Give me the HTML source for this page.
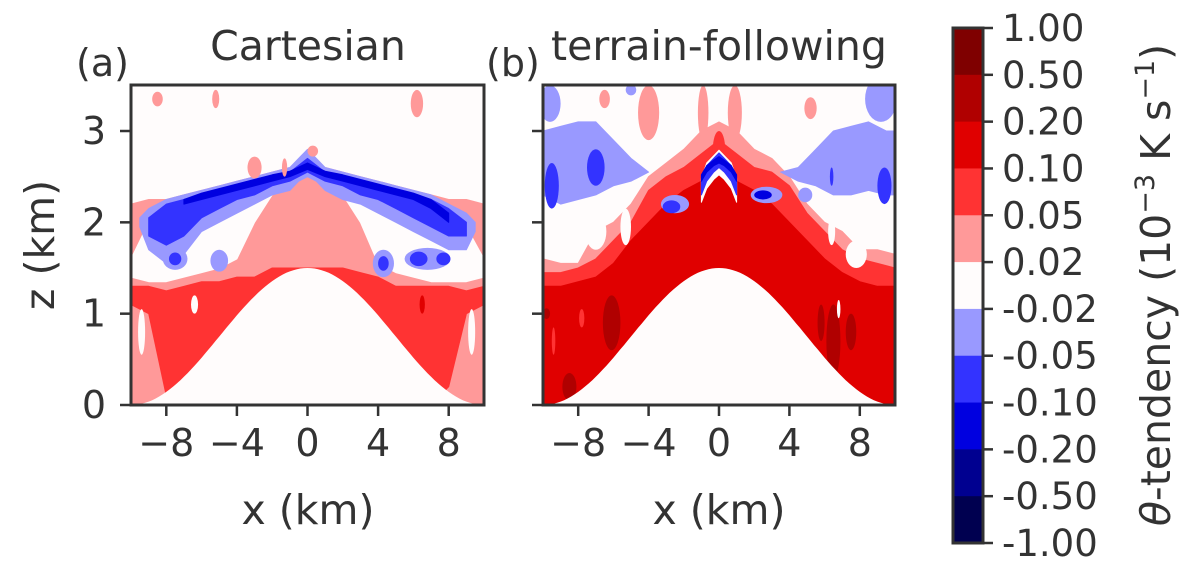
<!DOCTYPE html>
<html><head><meta charset="utf-8"><style>
body{margin:0;background:#fff;}
svg text{font-family:"DejaVu Sans","Liberation Sans",sans-serif;fill:#333;}
</style></head><body>
<svg id="fig" width="1198" height="570" viewBox="0 0 1198 570" xmlns="http://www.w3.org/2000/svg">
<defs>
<clipPath id="clipA"><rect x="131" y="85" width="353" height="320"/></clipPath>
<clipPath id="clipB"><rect x="543" y="85" width="352" height="320"/></clipPath>
</defs>
<g id="panelA" clip-path="url(#clipA)"><rect x="131" y="85" width="353" height="320" fill="#fffcfc"/></g>
<g id="panelB" clip-path="url(#clipB)"><rect x="543" y="85" width="352" height="320" fill="#fffcfc"/></g>
<g id="axes"></g>
<g id="cbar"></g>
<text x="76" y="76" font-size="38">(a)</text>
<text x="308" y="60" font-size="41" text-anchor="middle">Cartesian</text>
<text x="486" y="76" font-size="38">(b)</text>
<text x="719" y="60" font-size="41" text-anchor="middle">terrain-following</text>
<text x="308" y="524" font-size="41" text-anchor="middle">x (km)</text>
<text x="719" y="524" font-size="41" text-anchor="middle">x (km)</text>
<text transform="translate(54,245) rotate(-90)" font-size="41" text-anchor="middle">z (km)</text>
<text transform="translate(1170,285) rotate(-90)" font-size="41" text-anchor="middle"><tspan font-style="italic">θ</tspan>-tendency (10<tspan font-size="27" dy="-16">−3</tspan><tspan dy="16"> K s</tspan><tspan font-size="27" dy="-16">−1</tspan><tspan dy="16">)</tspan></text>
</svg>
<script>
const NS="http://www.w3.org/2000/svg";
const C={dr:"#7f0000",r2:"#b00000",r1:"#e00000",r05:"#ff3333",p:"#ff9999",w:"#fffcfc",lb:"#9999ff",b05:"#3333ff",b1:"#0000e0",b2:"#000090",b3:"#000050"};
const cbarLevels=["1.00","0.50","0.20","0.10","0.05","0.02","-0.02","-0.05","-0.10","-0.20","-0.50","-1.00"];
const cbarColors=[C.dr,C.r2,C.r1,C.r05,C.p,C.w,C.lb,C.b05,C.b1,C.b2,C.b3];
const xTicks=[-8,-4,0,4,8];
const zTicks=[0,1,2,3];
const hillHeight=1.5, hillHalfWidth=10;
const X21=[-10,-9,-8,-7,-6,-5,-4,-3,-2,-1,0,1,2,3,4,5,6,7,8,9,10];
const aPinkHi=[2.2,2.25,2.25,2.3,2.35,2.4,2.45,2.5,2.55,2.6,2.7,2.6,2.55,2.5,2.45,2.4,2.35,2.3,2.25,2.25,2.2];
const aWhiteLo=[1.4,1.35,1.35,1.4,1.45,1.5,1.6,2.0,2.3,2.45,2.55,2.45,2.3,2.0,1.55,1.45,1.4,1.35,1.35,1.35,1.4];
const aWhiteHi=[1.6,2.0,2.15,2.25,2.3,2.35,2.4,2.45,2.5,2.6,2.65,2.6,2.5,2.45,2.4,2.35,2.3,2.2,2.1,1.95,1.6];
const aLbX=[-9.5,-9,-8,-7,-6,-5,-4,-3,-2,-1,-0.5,0,0.5,1,2,3,4,5,6,7,8,9,9.5];
const aLbLo=[1.95,1.7,1.55,1.65,1.9,2.0,2.1,2.2,2.3,2.35,2.45,2.5,2.45,2.35,2.25,2.2,2.1,2.0,1.9,1.8,1.7,1.7,1.9];
const aLbHi=[2.05,2.15,2.25,2.3,2.35,2.4,2.45,2.5,2.55,2.6,2.7,2.8,2.7,2.6,2.55,2.5,2.45,2.4,2.35,2.3,2.2,2.1,2.0];
const aMbX=[-9,-8,-7,-6,-5,-4,-3,-2,-1,0,1,2,3,4,5,6,7,8,9];
const aMbLo=[1.85,1.75,1.85,2.05,2.15,2.25,2.3,2.4,2.45,2.55,2.45,2.4,2.3,2.25,2.15,2.05,1.95,1.85,1.85];
const aMbHi=[2.05,2.2,2.25,2.3,2.35,2.4,2.45,2.5,2.55,2.7,2.55,2.5,2.45,2.4,2.35,2.3,2.25,2.15,2.0];
const aDbX=[-7,-6,-4,-2,-1,0,1,2,4,6,7,8];
const aDbLo=[2.2,2.25,2.35,2.45,2.5,2.58,2.5,2.45,2.35,2.25,2.15,2.0];
const aDbHi=[2.25,2.32,2.42,2.52,2.56,2.65,2.56,2.52,2.42,2.32,2.25,2.1];
const aRedLo=[1.1,1.0,0.1,0,0,0,0,0,0,0,0,0,0,0,0,0,0,0,0.2,1.0,1.1];
const aRedHi=[1.3,1.3,1.25,1.3,1.35,1.35,1.4,1.4,1.5,1.5,1.5,1.5,1.5,1.45,1.4,1.3,1.3,1.3,1.3,1.25,1.3];
const aBlobs=[["p",-8.5,3.35,0.3,0.08],["p",-5.2,3.35,0.2,0.1],["p",6.2,3.3,0.35,0.15],["p",-3,2.6,0.4,0.12],["p",-1.3,2.6,0.15,0.1],["p",0.3,2.78,0.3,0.06],
["lb",-7.5,1.6,0.7,0.12],["b05",-7.5,1.6,0.35,0.07],["lb",4.3,1.55,0.6,0.15],["b05",4.3,1.55,0.3,0.08],["lb",6.8,1.6,1.3,0.12],["b05",6.3,1.6,0.5,0.08],["b05",7.7,1.6,0.4,0.07],["lb",-5,1.58,0.5,0.12],
["w",-9.4,0.8,0.2,0.25],["w",9.3,0.8,0.2,0.25],["w",-6.4,1.1,0.2,0.1],["r1",6.5,1.1,0.15,0.1]];
const bR1Hi=[1.3,1.3,1.35,1.4,1.55,1.8,2.0,2.2,2.35,2.45,2.65,2.45,2.35,2.2,2.0,1.8,1.6,1.45,1.35,1.3,1.3];
const bR05Hi=[1.45,1.45,1.5,1.6,1.8,2.0,2.35,2.5,2.6,2.75,2.9,2.75,2.6,2.55,2.4,2.1,1.9,1.7,1.6,1.55,1.5];
const bPHi=[1.6,1.55,1.55,1.9,2.0,2.2,2.5,2.65,2.8,3.0,3.1,3.0,2.8,2.7,2.5,2.2,2.0,1.9,1.7,1.7,1.65];
const bLbLX=[-10,-9,-8,-7,-6,-5,-4];
const bLbLLo=[2.3,2.2,2.25,2.3,2.4,2.45,2.55];
const bLbLHi=[3.0,3.05,3.1,3.1,2.9,2.7,2.55];
const bLbRX=[3.5,4.5,5.5,6.5,7.5,8.5,9.5,10];
const bLbRLo=[2.55,2.45,2.4,2.3,2.3,2.35,2.3,2.3];
const bLbRHi=[2.55,2.6,2.8,3.0,3.05,3.1,3.0,3.0];
const bBlobs=[["lb",-9.6,3.3,0.6,0.2],["lb",9.2,3.35,0.9,0.25],["lb",-5,3.45,0.3,0.06],["p",-6.5,3.35,0.3,0.1],["p",5.2,3.25,0.35,0.12],
["b05",-9.5,2.4,0.4,0.25],["b05",-7,2.6,0.5,0.2],["b05",9.4,2.4,0.4,0.2],["b05",6.4,2.5,0.1,0.1],["lb",2.5,2.3,0.6,0.08],["lb",4.9,2.3,0.4,0.08],
["p",-4,3.2,0.6,0.3],["p",-0.9,3.2,0.3,0.3],["p",0.9,3.2,0.4,0.3],["r05",0,2.8,0.35,0.2],
["lb",-2.5,2.2,0.8,0.1],["b05",-2.7,2.17,0.5,0.07],["lb",2.7,2.3,0.9,0.09],["b1",2.5,2.3,0.5,0.05],
["w",-7,1.9,0.6,0.2],["w",7.8,1.65,0.6,0.15],["w",-5.3,1.95,0.3,0.2],["w",6.4,1.9,0.2,0.15],
["r2",-6.1,0.9,0.5,0.3],["r2",6.5,0.7,0.4,0.4],["r2",5.8,0.9,0.2,0.2],["r2",-8.5,0.2,0.4,0.15],["r2",7.5,0.8,0.3,0.2],["r2",-9.8,1.0,0.2,0.06],["r05",-9.4,0.7,0.1,0.15],["r05",-7.8,0.95,0.15,0.1],["w",6.8,1.05,0.1,0.1]];
const bChevX=[-1,-0.7,-0.3,0,0.3,0.7,1];
const bChevLo=[2.3,2.45,2.55,2.6,2.55,2.45,2.3];
const bChevHi=[2.45,2.62,2.7,2.76,2.7,2.62,2.45];
const bChevInLo=[2.45,2.55,2.62,2.65,2.62,2.55,2.45];
const bChevInHi=[2.52,2.62,2.68,2.72,2.68,2.62,2.52];

function sx(P,x){return P.x0+(x+10)*(P.x1-P.x0)/20;}
function sz(z){return 405-z*91.33;}
const PA={g:document.getElementById('panelA'),x0:131,x1:484};
const PB={g:document.getElementById('panelB'),x0:543,x1:895};
function band(P,col,xs,lo,hi,name){
  let pts=[];
  for(let i=0;i<xs.length;i++)pts.push(sx(P,xs[i]).toFixed(1)+","+sz(lo[i]).toFixed(1));
  for(let i=xs.length-1;i>=0;i--)pts.push(sx(P,xs[i]).toFixed(1)+","+sz(hi[i]).toFixed(1));
  const e=document.createElementNS(NS,'polygon');
  e.setAttribute('points',pts.join(' '));e.setAttribute('fill',C[col]);
  e.setAttribute('stroke',C[col]);e.setAttribute('stroke-width','1');e.setAttribute('stroke-linejoin','round');
  
  
  P.g.appendChild(e);
}
function blobs(P,list,name){
  list.forEach(b=>{
    const e=document.createElementNS(NS,'ellipse');
    e.setAttribute('cx',sx(P,b[1]));e.setAttribute('cy',sz(b[2]));
    e.setAttribute('rx',b[3]*(P.x1-P.x0)/20);e.setAttribute('ry',b[4]*91.33);
    e.setAttribute('fill',C[b[0]]);
    
    
    P.g.appendChild(e);
  });
}
function hill(P){
  let pts=[];
  for(let i=0;i<=100;i++){const x=-10+i*0.2;const h=hillHeight*Math.pow(Math.cos(Math.PI*x/(2*hillHalfWidth)),2);pts.push(sx(P,x).toFixed(1)+","+sz(h).toFixed(1));}
  pts.push(sx(P,10)+","+sz(-0.1));pts.push(sx(P,-10)+","+sz(-0.1));
  const e=document.createElementNS(NS,'polygon');
  e.setAttribute('points',pts.join(' '));e.setAttribute('fill','#fffcfc');
  
  
  P.g.appendChild(e);
}
const zeros=X21.map(()=>0);
band(PA,'p',X21,zeros,aPinkHi,'pink-region');
band(PA,'w',X21,aWhiteLo,aWhiteHi,'white-region');
band(PA,'lb',aLbX,aLbLo,aLbHi,'light-blue-band');
band(PA,'b05',aMbX,aMbLo,aMbHi,'blue-band');
band(PA,'b1',aDbX,aDbLo,aDbHi,'dark-blue-band');
band(PA,'r05',X21,aRedLo,aRedHi,'red-region');
blobs(PA,aBlobs,'contour-patch');
hill(PA);
band(PB,'p',X21,zeros,bPHi,'pink-region');
band(PB,'r05',X21,zeros,bR05Hi,'red-region');
band(PB,'r1',X21,zeros,bR1Hi,'dark-red-region');
band(PB,'lb',bLbLX,bLbLLo,bLbLHi,'left-blue-region');
band(PB,'lb',bLbRX,bLbRLo,bLbRHi,'right-blue-region');
blobs(PB,bBlobs,'contour-patch');
band(PB,'w',bChevX,bChevLo.map(v=>v-0.08),bChevHi.map(v=>v+0.03),'chevron-white');
band(PB,'b05',bChevX,bChevLo,bChevHi,'chevron-blue');
band(PB,'b1',bChevX,bChevInLo,bChevInHi,'chevron-dark-blue');
hill(PB);

const ax=document.getElementById('axes');
function line(x1,y1,x2,y2,w,name){const e=document.createElementNS(NS,'line');e.setAttribute('x1',x1);e.setAttribute('y1',y1);e.setAttribute('x2',x2);e.setAttribute('y2',y2);e.setAttribute('stroke','#333');e.setAttribute('stroke-width',w);


ax.appendChild(e);}
function text(x,y,s,anchor,size,name,parent){const e=document.createElementNS(NS,'text');e.setAttribute('x',x);e.setAttribute('y',y);e.setAttribute('text-anchor',anchor);e.setAttribute('font-size',size);e.textContent=s;


(parent||ax).appendChild(e);}
[PA,PB].forEach((P,k)=>{
  const r=document.createElementNS(NS,'rect');r.setAttribute('x',P.x0);r.setAttribute('y',85);r.setAttribute('width',P.x1-P.x0);r.setAttribute('height',320);r.setAttribute('fill','none');r.setAttribute('stroke','#333');r.setAttribute('stroke-width','3');
  
  
  ax.appendChild(r);
  xTicks.forEach(t=>{const x=sx(P,t);line(x,405,x,416,2.5,'x-tick');text(x,456,t<0?"−"+(-t):String(t),'middle',38,'x-tick-label');});
  zTicks.forEach(t=>{const y=sz(t);line(P.x0-11,y,P.x0,y,2.5,'y-tick');if(k===0)text(106,y+13,String(t),'end',38,'y-tick-label');});
});
const cb=document.getElementById('cbar');
const cTop=28,cBot=543,cX=953,cW=30,step=(cBot-cTop)/cbarColors.length;
cbarColors.forEach((c,i)=>{const e=document.createElementNS(NS,'rect');e.setAttribute('x',cX);e.setAttribute('y',cTop+i*step);e.setAttribute('width',cW);e.setAttribute('height',step+0.5);e.setAttribute('fill',c);


cb.appendChild(e);});
const fr=document.createElementNS(NS,'rect');fr.setAttribute('x',cX);fr.setAttribute('y',cTop);fr.setAttribute('width',cW);fr.setAttribute('height',cBot-cTop);fr.setAttribute('fill','none');fr.setAttribute('stroke','#333');fr.setAttribute('stroke-width','3');


cb.appendChild(fr);
cbarLevels.forEach((l,i)=>{const y=cTop+i*step;
  const t=document.createElementNS(NS,'line');t.setAttribute('x1',cX+cW);t.setAttribute('x2',cX+cW+10);t.setAttribute('y1',y);t.setAttribute('y2',y);t.setAttribute('stroke','#333');t.setAttribute('stroke-width','2.5');
  
  
  cb.appendChild(t);
  text(1002,y+13,l,'start',37,'colorbar-tick-label',cb);});
</script>
</body></html>
